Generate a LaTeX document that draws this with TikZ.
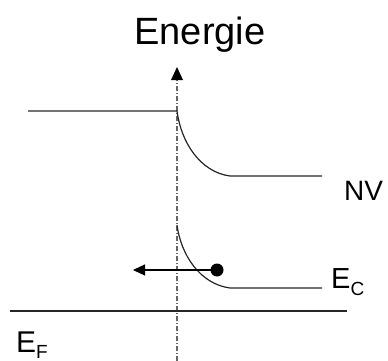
\documentclass[tikz,border=0pt]{standalone}
\usepackage{fontspec}
\setmainfont{Liberation Sans}
\usetikzlibrary{arrows.meta}
\begin{document}
\begin{tikzpicture}[x=1pt,y=-1pt,
  band/.style={line width=1.2pt,black!85},
  axisline/.style={line width=1.4pt,black!60,dash pattern=on 5pt off 2pt on 1pt off 2pt},
  lbl/.style={inner sep=0pt,anchor=base west}]
\useasboundingbox (0,0) rectangle (388,361);
% axis
\coordinate (abot) at (177,361);
\coordinate (atop) at (177,67);
\draw[axisline] (abot) -- (177,80);
\fill[black] (atop) -- (171,80) -- (183,80) -- cycle;
\node[inner sep=0pt,anchor=base] (title) at (200,45) {\fontsize{38}{40}\selectfont Energie};
% NV band
\coordinate (n1) at (28,111);
\coordinate (n2) at (177,111);
\coordinate (n3) at (230,176);
\coordinate (n4) at (322,176);
\draw[band] (n1) -- (n2) .. controls (181,142) and (200,172) .. (n3) -- (n4);
\node[lbl] (nv) at (344,200) {\fontsize{28}{30}\selectfont NV};
% E_C band
\coordinate (c1) at (177,225);
\coordinate (c3) at (230,288);
\coordinate (c4) at (322,288);
\draw[band] (c1) .. controls (181,255) and (200,284) .. (c3) -- (c4);
\node[lbl] (ec) at (331,288) {\fontsize{29}{30}\selectfont E\raisebox{-7pt}{\fontsize{19}{20}\selectfont C}};
% Fermi level
\coordinate (f1) at (10,311);
\coordinate (f2) at (347,311);
\draw[band] (f1) -- (f2);
\node[lbl] (ef) at (16,352) {\fontsize{30}{30}\selectfont E\raisebox{-6pt}{\fontsize{19}{20}\selectfont F}};
% electron
\node[circle,fill=black,inner sep=0pt,minimum size=13pt] (el) at (217,270) {};
\coordinate (etip) at (133,270);
\draw[line width=1.2pt,-{Triangle[length=12pt,width=11pt]}] (el.center) -- (etip);
\end{tikzpicture}
\end{document}
